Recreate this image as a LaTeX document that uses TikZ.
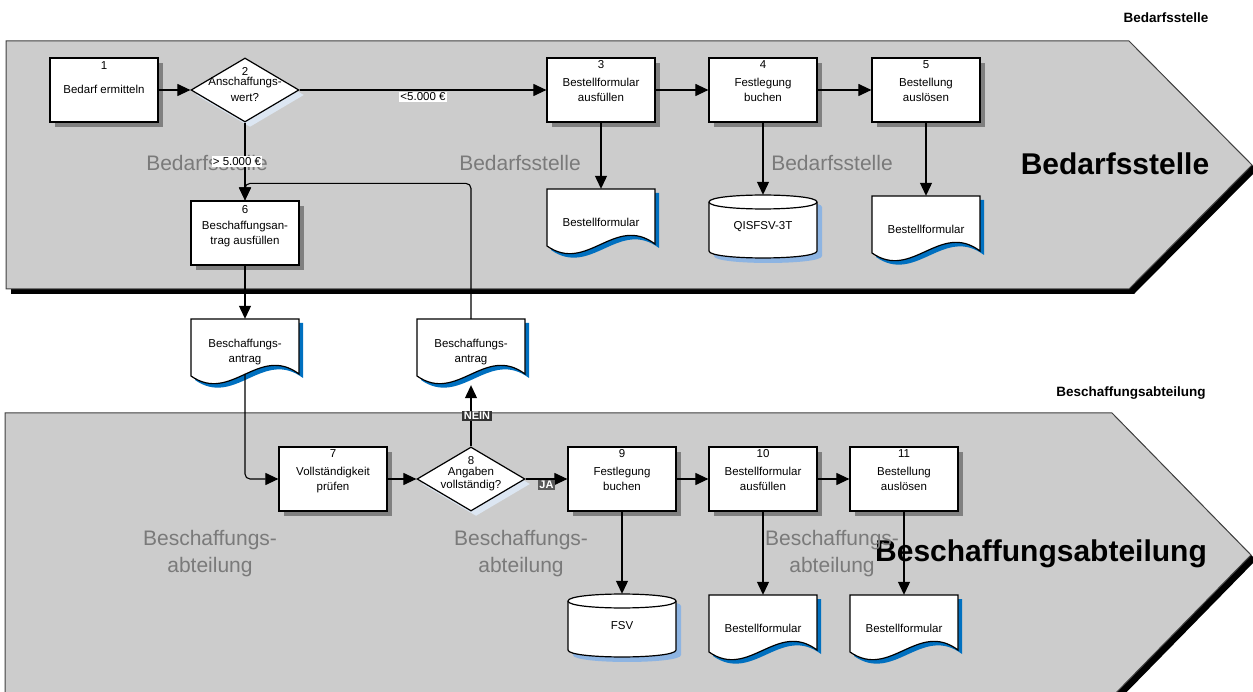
\documentclass[tikz,border=0pt]{standalone}
\usepackage{fontspec}
\setmainfont{Liberation Sans}
\usetikzlibrary{arrows.meta,shapes.geometric,shadows,calc}

\definecolor{lanefill}{HTML}{CCCCCC}
\definecolor{laneline}{HTML}{404040}
\definecolor{boxshade}{HTML}{808080}
\definecolor{docshade}{HTML}{0070C0}
\definecolor{dbshade}{HTML}{8DB4E2}
\definecolor{diashade}{HTML}{DCE6F2}
\definecolor{ghostgray}{HTML}{7A7A7A}
\definecolor{neinfill}{HTML}{333333}
\definecolor{jafill}{HTML}{5A5A5A}

\newcommand{\nodefont}{\fontsize{11.5}{14.5}\selectfont}

\newcommand{\docnode}[4]{%
	\begin{scope}[shift={(#2,#3)}]
		\fill[docshade] (-50,-29) -- (58,-29) -- (58,26) .. controls (18,-4) and (-10,56) .. (-50,28) -- cycle;
		\filldraw[fill=white, line width=1.2pt] (-54,-33) -- (54,-33) -- (54,22) .. controls (14,-8) and (-14,52) .. (-54,24) -- cycle;
		\coordinate (#1-b) at (0,22);
	\end{scope}
	\node[docbox] (#1) at (#2,#3) {#4};}

\newcommand{\dbnode}[4]{%
	\begin{scope}[shift={(#2,#3)}]
		\fill[dbshade] (-49,-19.5) -- (-49,29.5) .. controls (-49,38.8) and (59,38.8) .. (59,29.5) -- (59,-19.5) .. controls (59,-28.8) and (-49,-28.8) .. (-49,-19.5) -- cycle;
		\filldraw[fill=white, line width=1.2pt] (-54,-24.5) -- (-54,24.5) .. controls (-54,33.8) and (54,33.8) .. (54,24.5) -- (54,-24.5) .. controls (54,-33.8) and (-54,-33.8) .. (-54,-24.5) -- cycle;
		\draw[line width=1.2pt] (-54,-24.5) .. controls (-54,-15.2) and (54,-15.2) .. (54,-24.5);
	\end{scope}
	\node[dbbox] (#1) at (#2,#3) {#4};}

\tikzset{
	flow/.style={line width=1.1pt, -{Triangle[length=13pt,width=12pt]}},
	stepbox/.style={draw, fill=white, line width=1.2pt, minimum width=108pt, minimum height=64pt, inner sep=0pt,
		drop shadow={fill=boxshade, opacity=1, shadow xshift=5pt, shadow yshift=-5pt}},
	decision/.style={diamond, draw, fill=white, line width=1.2pt, minimum width=108pt, minimum height=64pt, inner sep=0pt, aspect=1.7,
		drop shadow={fill=diashade, opacity=1, shadow xshift=5pt, shadow yshift=-5pt}},
	steptext/.style={anchor=north, align=center, inner sep=0pt, font=\nodefont},
	docbox/.style={minimum width=108pt, minimum height=66pt, inner sep=0pt, align=center, font=\nodefont},
	dbbox/.style={minimum width=108pt, minimum height=63pt, inner sep=0pt, font=\nodefont},
	tag/.style={fill=white, inner sep=1pt, font=\nodefont},
	darktag/.style={fill=#1, text=white, inner sep=1.5pt, font=\fontsize{11}{13}\selectfont\bfseries},
	ghost/.style={text=ghostgray, align=center, font=\fontsize{21}{27}\selectfont},
	lanebig/.style={font=\fontsize{30}{36}\selectfont\bfseries},
	lanetitle/.style={font=\fontsize{13.5}{16}\selectfont\bfseries},
}

\begin{document}
\begin{tikzpicture}[x=1pt, y=-1pt]
	\useasboundingbox (0,0) rectangle (1253,692);
	\clip (0,0) rectangle (1253,692);

	\fill[black] (11,46) -- (1134,46) -- (1257,170) -- (1134,294) -- (11,294) -- cycle;
	\filldraw[fill=lanefill, draw=laneline, line width=1pt] (6,41) -- (1129,41) -- (1252,165) -- (1129,289) -- (6,289) -- cycle;
	\fill[black] (10,418) -- (1117,418) -- (1256,560) -- (1114,705) -- (10,705) -- cycle;
	\filldraw[fill=lanefill, draw=laneline, line width=1pt] (5,413) -- (1112,413) -- (1251,555) -- (1109,700) -- (5,700) -- cycle;

	\node[lanetitle] (titleA) at (1166,18) {Bedarfsstelle};
	\node[lanetitle] (titleB) at (1131,393) {Beschaffungsabteilung};
	\node[lanebig] (bigA) at (1115,164) {Bedarfsstelle};
	\node[lanebig] (bigB) at (1041,554) {Beschaffungsabteilung};

	\node[ghost] (ghA1) at (207,163) {Bedarfsstelle};
	\node[ghost] (ghA2) at (520,163) {Bedarfsstelle};
	\node[ghost] (ghA3) at (832,163) {Bedarfsstelle};
	\node[ghost] (ghB1) at (210,554) {Beschaffungs-\\abteilung};
	\node[ghost] (ghB2) at (521,554) {Beschaffungs-\\abteilung};
	\node[ghost] (ghB3) at (832,554) {Beschaffungs-\\abteilung};

	\node[stepbox, label={[steptext, yshift=-4pt]north:{1\\[9.5pt]Bedarf ermitteln}}] (b1) at (104,90) {};
	\node[decision, label={[steptext, yshift=-10pt]north:{2\\[-4.5pt]Anschaffungs-\\[1.5pt]wert?}}] (d2) at (245,90) {};
	\node[stepbox, label={[steptext, yshift=-3pt]north:{3\\[3.5pt]Bestellformular\\ausfüllen}}] (b3) at (601,90) {};
	\node[stepbox, label={[steptext, yshift=-3pt]north:{4\\[3.5pt]Festlegung\\buchen}}] (b4) at (763,90) {};
	\node[stepbox, label={[steptext, yshift=-3pt]north:{5\\[3.5pt]Bestellung\\auslösen}}] (b5) at (926,90) {};
	\node[stepbox, label={[steptext, yshift=-5pt]north:{6\\[1.5pt]Beschaffungsan-\\trag ausfüllen}}] (b6) at (245,233) {};

	\docnode{doc3}{601}{222}{Bestellformular}
	\dbnode{db4}{763}{226.5}{QISFSV-3T}
	\docnode{doc5}{926}{229}{Bestellformular}
	\docnode{docA}{245}{352}{Beschaffungs-\\antrag}
	\docnode{docB}{471}{352}{Beschaffungs-\\antrag}

	\node[stepbox, label={[steptext, yshift=-3pt]north:{7\\[3.5pt]Vollständigkeit\\prüfen}}] (b7) at (333,479) {};
	\node[decision, label={[steptext, yshift=-10pt]north:{8\\[-3.5pt]Angaben\\[-1.5pt]vollständig?}}] (d8) at (471,479) {};
	\node[stepbox, label={[steptext, yshift=-3pt]north:{9\\[3.5pt]Festlegung\\buchen}}] (b9) at (622,479) {};
	\node[stepbox, label={[steptext, yshift=-3pt]north:{10\\[3.5pt]Bestellformular\\ausfüllen}}] (b10) at (763,479) {};
	\node[stepbox, label={[steptext, yshift=-3pt]north:{11\\[3.5pt]Bestellung\\auslösen}}] (b11) at (904,479) {};

	\dbnode{dbF}{622}{625.5}{FSV}
	\docnode{doc10}{763}{628}{Bestellformular}
	\docnode{doc11}{904}{628}{Bestellformular}

	\draw[flow] (b1) -- (d2);
	\draw[flow] (d2) -- node[tag, yshift=-7pt] {<5.000 €} (b3);
	\draw[flow] (b3) -- (b4);
	\draw[flow] (b4) -- (b5);
	\draw[flow] (d2) -- node[tag, xshift=-8pt] {> 5.000 €} (b6);
	\draw[flow] (b3) -- (doc3);
	\draw[flow] (b4) -- (db4);
	\draw[flow] (b5) -- (doc5);
	\draw[flow] (b6) -- (docA);
	\draw[flow, rounded corners=5pt] (docA-b) |- (b7);
	\draw[flow] (b7) -- (d8);
	\draw[flow] (d8) -- node[darktag=jafill, yshift=-6pt] {JA} (b9);
	\draw[flow] (d8) -- node[darktag=neinfill, xshift=6pt] {NEIN} (docB);
	\draw[flow, rounded corners=5pt] (docB) |- ($(b6.north)+(0,-17)$) -- (b6);
	\draw[flow] (b9) -- (b10);
	\draw[flow] (b10) -- (b11);
	\draw[flow] (b9) -- (dbF);
	\draw[flow] (b10) -- (doc10);
	\draw[flow] (b11) -- (doc11);
\end{tikzpicture}
\end{document}
